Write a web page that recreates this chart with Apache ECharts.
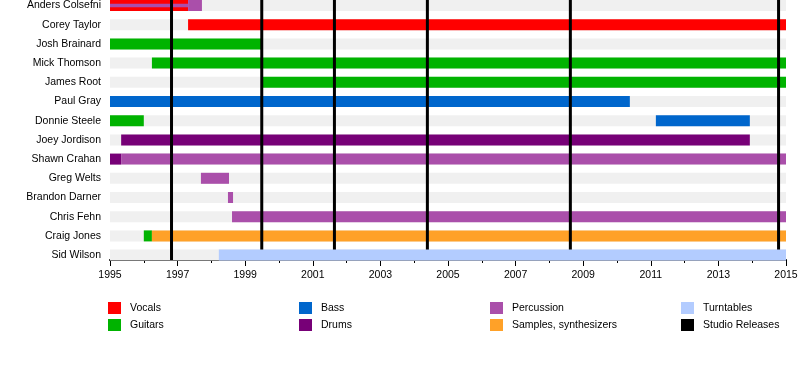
<!DOCTYPE html>
<html>
<head>
<meta charset="utf-8">
<script src="https://cdn.jsdelivr.net/npm/echarts@6/dist/echarts.min.js"></script>
<style>
html,body{margin:0;padding:0;background:#fff;}
#chart{width:800px;height:380px;}
</style>
</head>
<body>
<div id="chart"></div>
<script>
// ---- data ----
const members = ['Anders Colsefni','Corey Taylor','Josh Brainard','Mick Thomson','James Root','Paul Gray','Donnie Steele','Joey Jordison','Shawn Crahan','Greg Welts','Brandon Darner','Chris Fehn','Craig Jones','Sid Wilson'];
const yearStart = 1995;
const yearEnd = 2015;
const tickYears = ['1995','1997','1999','2001','2003','2005','2007','2009','2011','2013','2015'];
// [member, from, to]
const vocals = [['Anders Colsefni',1995,1997.31],['Corey Taylor',1997.31,2015]];
const guitars = [['Josh Brainard',1995,1999.5],['Mick Thomson',1996.24,2015],['James Root',1999.47,2015],['Donnie Steele',1995,1996.0],['Craig Jones',1996.0,1996.24]];
const bass = [['Paul Gray',1995,2010.38],['Donnie Steele',2011.15,2013.93]];
const drums = [['Joey Jordison',1995.33,2013.93],['Shawn Crahan',1995,1995.33]];
const percussion = [['Anders Colsefni',1997.31,1997.72],['Shawn Crahan',1995.33,2015],['Greg Welts',1997.69,1998.52],['Brandon Darner',1998.49,1998.64],['Chris Fehn',1998.61,2015]];
const percussionMinor = [['Anders Colsefni',1995,1997.31]];
const samples = [['Craig Jones',1996.24,2015]];
const turntables = [['Sid Wilson',1998.22,2015]];
const studioReleases = [1996.82,1999.49,2001.64,2004.39,2008.62,2014.78];

const colors = {
  'Vocals':'#ff0000','Guitars':'#00b300','Bass':'#0066cc','Drums':'#770077',
  'Percussion':'#aa4faa','Samples, synthesizers':'#ffa128','Turntables':'#b3ccff','Studio Releases':'#000000'
};

// ---- helpers ----
const FONT = 'Liberation Sans, Arial, sans-serif';
const BAR_RATIO = 0.573;
const X_OFFSET = -4.7;
function toX(y){ return +(y - yearStart).toFixed(4); }
function rows(list){ return list.map(r => [toX(r[1]), toX(r[2]), members.indexOf(r[0])]); }

function barRender(ratio){
  return function(params, api){
    const row = api.value(2);
    const p0 = api.coord([api.value(0), row]);
    const p1 = api.coord([api.value(1), row]);
    const h = api.size([0,1])[1] * ratio;
    return {type:'rect', shape:{x:p0[0], y:p0[1]-h/2, width:p1[0]-p0[0], height:h}, style:{fill:api.visual('color')}};
  };
}
function barSeries(name, list, ratio, z){
  return {
    type:'custom', name:name, renderItem:barRender(ratio), z:z, clip:false,
    itemStyle:{color:colors[name]},
    encode:{x:[0,1], y:2},
    data:rows(list), silent:true
  };
}

const background = members.map(m => [m, yearStart, yearEnd]);

const series = [
  {type:'custom', name:'bg', clip:false, renderItem:function(params, api){
      const row = api.value(2);
      const p0 = api.coord([api.value(0), row]);
      const p1 = api.coord([api.value(1), row]);
      const h = api.size([0,1])[1] * BAR_RATIO;
      return {type:'rect', shape:{x:p0[0], y:p0[1]-h/2, width:p1[0]-p0[0], height:h}, style:{fill:'#f0f0f0'}};
    }, z:1, encode:{x:[0,1], y:2}, data:rows(background), silent:true},
  barSeries('Vocals', vocals, BAR_RATIO, 2),
  barSeries('Guitars', guitars, BAR_RATIO, 2),
  barSeries('Bass', bass, BAR_RATIO, 2),
  barSeries('Drums', drums, BAR_RATIO, 2),
  barSeries('Percussion', percussion, BAR_RATIO, 2),
  barSeries('Percussion', percussionMinor, 0.17, 3),
  barSeries('Samples, synthesizers', samples, BAR_RATIO, 2),
  barSeries('Turntables', turntables, BAR_RATIO, 5),
  {type:'custom', name:'Studio Releases', z:4, clip:false, itemStyle:{color:'#000'}, silent:true,
    encode:{x:0},
    renderItem:function(params, api){
      const p = api.coord([api.value(0), 0]);
      const cs = params.coordSys;
      return {type:'line', shape:{x1:p[0], y1:0, x2:p[0], y2:cs.y+cs.height+X_OFFSET},
        style:{stroke:'#000', lineWidth:3}};
    },
    data:studioReleases.map(v => [toX(v)])}
];

function legend(left, names){
  return {
    left:left, top:302, orient:'vertical', itemWidth:13, itemHeight:12, itemGap:5,
    icon:'rect', selectedMode:false, padding:0,
    textStyle:{fontFamily:FONT, fontSize:10.5, color:'#000', padding:[1,0,0,4]},
    data:names
  };
}

const chart = echarts.init(document.getElementById('chart'), null, {renderer:'canvas'});
chart.setOption({
  animation:false,
  backgroundColor:'#fff',
  color:Object.values(colors),
  grid:{left:110, right:14, top:-4.1, height:268.8, outerBoundsMode:'none', containLabel:false},
  xAxis:{
    type:'value', min:0, max:yearEnd-yearStart, interval:2, offset:X_OFFSET,
    axisLine:{show:true, lineStyle:{color:'#000', width:2}},
    axisTick:{show:true, length:6, lineStyle:{color:'#000', width:1}},
    minorTick:{show:true, splitNumber:2, length:3, lineStyle:{color:'#000', width:1}},
    splitLine:{show:false},
    axisLabel:{margin:10, fontFamily:FONT, fontSize:10.5, color:'#000',
      formatter:function(v){ return tickYears[Math.round(v/2)] || ''; }}
  },
  yAxis:{
    type:'category', data:members, inverse:true,
    axisLine:{show:false}, axisTick:{show:false}, splitLine:{show:false},
    axisLabel:{margin:9, fontFamily:FONT, fontSize:10.5, color:'#000'}
  },
  legend:[
    legend(108, ['Vocals','Guitars']),
    legend(299, ['Bass','Drums']),
    legend(490, ['Percussion','Samples, synthesizers']),
    legend(681, ['Turntables','Studio Releases'])
  ],
  series:series
});
</script>
</body>
</html>
